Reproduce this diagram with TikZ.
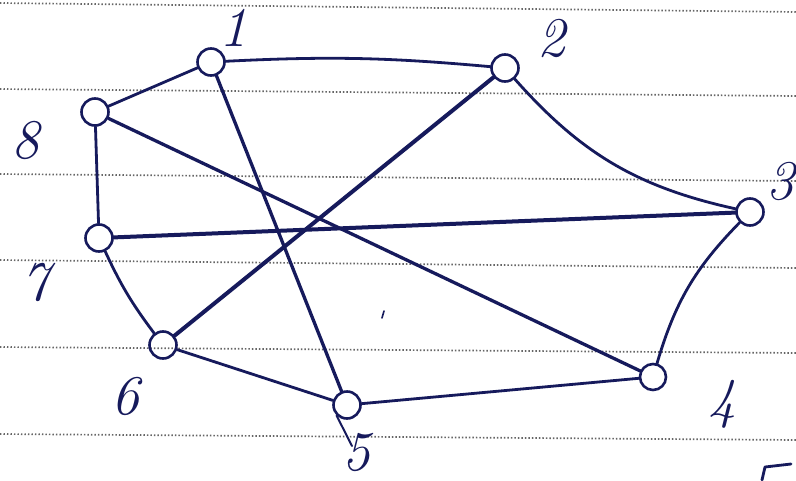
\documentclass[tikz,border=0pt]{standalone}
\usepackage{fontspec}
\begin{document}
\begin{tikzpicture}[x=1pt,y=-1pt,
  inkc/.style={draw=ink,line width=2.8pt,line cap=round,line join=round},
  vtx/.style={circle,draw=ink,line width=2.6pt,minimum size=27pt,inner sep=0pt},
  lbl/.style={text=ink,font=\fontsize{56}{56}\selectfont\itshape,inner sep=0pt},
  paper/.style={draw=black!60,line width=1.7pt,dash pattern=on 1.3pt off 2.2pt}]
\definecolor{ink}{RGB}{22,26,92}
\useasboundingbox (0,0) rectangle (796,480);
\fill[white] (0,0) rectangle (796,480);
% ruled paper
\foreach \a/\b in {3/12,89/96,174/181,260/268,347/353,434/440}
  \draw[paper] (0,\a) -- (796,\b);
% vertices
\node[vtx] (n1) at (211,62) {};
\node[vtx] (n2) at (505,68) {};
\node[vtx] (n3) at (750,212) {};
\node[vtx,minimum size=26pt] (n4) at (653,377) {};
\node[vtx] (n5) at (347,405) {};
\node[vtx] (n6) at (163,345) {};
\node[vtx] (n7) at (99,238) {};
\node[vtx] (n8) at (95,112) {};
% labels
\node[lbl] (l1) at (233,28) {1};
\node[lbl] (l2) at (551,38) {2};
\node[lbl] (l3) at (780,181) {3};
\node[lbl] (l4) at (722,404) {4};
\node[lbl] (l5) at (356,452) {5};
\node[lbl] (l6) at (125,396) {6};
\node[lbl] (l7) at (35,282) {7};
\node[lbl] (l8) at (25,140) {8};
% outer cycle
\draw[inkc] (n1) to[bend left=4] (n2);
\draw[inkc] (n2) to[bend right=18] (n3);
\draw[inkc] (n3) to[bend right=14] (n4);
\draw[inkc] (n4) -- (n5);
\draw[inkc] (n5) -- (n6);
\draw[inkc] (n6) to[bend left=6] (n7);
\draw[inkc] (n7) -- (n8);
\draw[inkc] (n8) -- (n1);
% diagonals
\draw[inkc,line width=3.3pt] (n1) -- (n5);
\coordinate (t5) at (352,446);
\draw[inkc,line width=2pt] (n5.south west) -- (t5);
\draw[inkc,line width=4pt] (n2) -- (n6);
\draw[inkc,line width=4pt] (n3) -- (n7);
\draw[inkc,line width=3.3pt] (n8) -- (n4);
% stray pen marks
\coordinate (m1) at (384,311);
\coordinate (m2) at (382,318);
\draw[inkc,line width=1.6pt] (m1) -- (m2);
\coordinate (c1) at (762,480);
\coordinate (c2) at (765,467);
\coordinate (c3) at (791,464);
\draw[inkc] (c1) -- (c2) -- (c3);
\end{tikzpicture}
\end{document}
